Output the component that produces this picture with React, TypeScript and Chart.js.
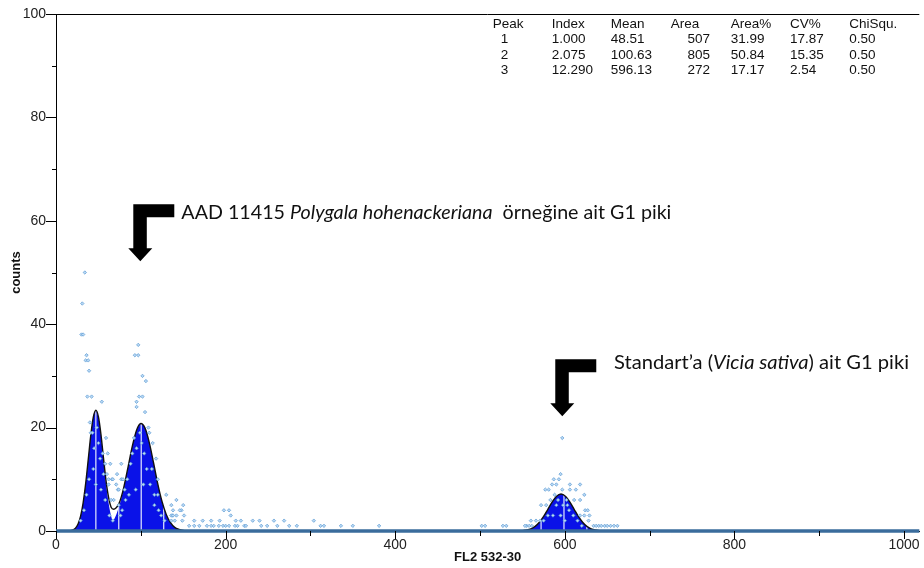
import React, { useEffect, useRef } from 'react';
import { Chart, registerables } from 'chart.js';

Chart.register(...registerables);

// ---------- axis ----------
const xMin = 0;
const xMax = 1018;
const yMin = 0;
const yMax = 100;
const xTickValues = [0, 200, 400, 600, 800, 1000];
const xMinorTickValues = [100, 300, 500, 700, 900];
const yTickValues = [0, 20, 40, 60, 80, 100];
const yMinorTickValues = [10, 30, 50, 70, 90];
const xTitle = 'FL2 532-30';
const yTitle = 'counts';

// ---------- fitted peaks ----------
const fit1X = [17, 20, 23, 26, 29, 32, 35, 38, 41, 44, 47, 50, 53, 56, 59, 62, 65, 68, 71, 74, 77, 80];
const fit1Y = [0.07, 0.21, 0.56, 1.35, 2.88, 5.46, 9.2, 13.8, 18.5, 22.0, 23.3, 22.0, 18.5, 13.8, 9.2, 5.46, 2.88, 1.35, 0.56, 0.21, 0.07, 0];

const fit2X = [50, 55, 60, 65, 70, 75, 80, 85, 90, 95, 100.5, 106, 111, 116, 121, 126, 131, 136, 141, 146, 151, 156];
const fit2Y = [0.08, 0.24, 0.6, 1.36, 2.78, 5.1, 8.4, 12.4, 16.4, 19.5, 20.8, 19.5, 16.4, 12.4, 8.4, 5.1, 2.78, 1.36, 0.6, 0.24, 0.08, 0];

const fit3X = [545, 550, 555, 560, 565, 570, 575, 580, 585, 590, 595.5, 601, 606, 611, 616, 621, 626, 631, 636, 641, 646];
const fit3Y = [0.02, 0.07, 0.19, 0.43, 0.9, 1.69, 2.81, 4.19, 5.6, 6.69, 7.15, 6.69, 5.6, 4.19, 2.81, 1.69, 0.9, 0.43, 0.19, 0.07, 0.02];

const fitSumX = [17, 20, 23, 26, 29, 32, 35, 38, 41, 44, 47, 50, 53, 56, 59, 62, 65, 68, 71, 74, 77, 80, 85, 90, 95, 100, 105, 110, 115, 120, 125, 130, 135, 140, 145, 150, 156];
const fitSumY = [0.07, 0.21, 0.56, 1.35, 2.88, 5.46, 9.2, 13.8, 18.5, 22.0, 23.35, 22.1, 18.7, 14.1, 9.7, 6.5, 4.6, 4.2, 4.5, 5.2, 6.6, 8.5, 12.4, 16.4, 19.5, 20.8, 19.9, 17.1, 13.2, 9.1, 5.7, 3.2, 1.6, 0.7, 0.3, 0.1, 0];

// zero-count channels along the whole axis
const baselineX = [0, 1018];
const baselineY = [0, 0];

// region boundary markers inside the peaks
const gateX = [47, 74, 100.5, 127, 572, 599, 626];
const gateTop = [23.3, 4.6, 20.8, 5.0, 2.1, 7.0, 0.9];

// ---------- raw histogram points ----------
const dotsX = [
  34, 31, 30, 32, 36, 35, 38, 39, 37, 42, 54, 41, 59, 55, 61, 58, 64, 77, 60, 72, 62, 66, 67, 77, 79, 62, 71, 73, 74, 81, 65, 68, 74,
  40, 43, 45, 48, 50, 52, 44, 39, 36, 47, 53, 56, 33, 58, 29, 63, 67,
  97, 93, 97, 102, 106, 98, 102, 95, 95, 105, 109, 110, 114, 118, 120, 116, 120, 130, 142, 136, 150, 148, 137, 142,
  84, 88, 90, 92, 95, 99, 101, 104, 107, 111, 113, 86, 82, 78, 94, 103, 116, 121, 124, 128, 76,
  138, 146, 198, 204, 136, 138, 151, 206,
  136, 140, 149, 163, 173, 183, 193, 212, 218, 232, 240, 257, 269, 304,
  157, 163, 169, 178, 183, 186, 192, 197, 200, 204, 211, 214, 222, 224, 242, 249, 261, 275, 284, 312, 316, 336, 350, 381, 502, 506, 527, 531, 555, 561,
  597, 595, 587, 593, 585, 590, 606, 618, 577, 581, 597, 606, 613, 623, 611, 618, 572, 578, 590, 603, 624, 627, 618, 623, 629, 560, 571, 628, 553, 558,
  634, 637, 640, 643, 647, 650, 654, 658, 662,
  583, 588, 592, 598, 602, 586, 595, 605, 610, 580, 575, 600, 615, 566, 620,
];
const dotsY = [
  50, 44, 38, 38, 34, 33, 33, 31, 26, 26, 25, 19, 18, 15, 15, 13, 13, 13, 11, 11, 10, 10, 10, 10, 10, 9, 9, 8, 8, 8, 6, 6, 5,
  21, 19, 16, 20, 17, 14, 12, 10, 7, 9, 8, 11, 4, 6, 2, 3, 2,
  36, 34, 34, 30, 29, 26, 26, 25, 24, 23, 20, 19, 17, 14, 10, 7, 7, 7, 6, 5, 5, 4, 3, 3,
  10, 13, 15, 18, 16, 19, 17, 15, 12, 9, 12, 7, 6, 4, 8, 9, 5, 4, 3, 2, 3,
  4, 4, 4, 4, 3, 3, 3, 3,
  2, 2, 2, 2, 2, 2, 2, 2, 2, 2, 2, 2, 2, 2,
  1, 1, 1, 1, 1, 1, 1, 1, 1, 1, 1, 1, 1, 1, 1, 1, 1, 1, 1, 1, 1, 1, 1, 1, 1, 1, 1, 1, 1, 1,
  18, 11, 10, 10, 9, 9, 9, 9, 8, 8, 8, 8, 8, 7, 6, 6, 5, 5, 5, 5, 4, 4, 3, 3, 3, 2, 2, 2, 1, 1,
  1, 1, 1, 1, 1, 1, 1, 1, 1,
  6, 7, 6, 5, 6, 3, 3, 4, 3, 3, 2, 2, 2, 2, 1,
];

// ---------- annotations ----------
const arrowTipX = [99.4, 597];
const arrowTipY = [52.2, 22.2];
const noteX = [147.8, 658];
const noteY = [60.3, 31.3];
const note1Parts: [string, boolean][] = [
  ['AAD 11415 ', false],
  ['Polygala hohenackeriana', true],
  ['  örneğine ait G1 piki', false],
];
const note2Parts: [string, boolean][] = [
  ['Standart’a (', false],
  ['Vicia sativa', true],
  [') ait G1 piki', false],
];

// ---------- statistics table ----------
const tableHeader = ['Peak', 'Index', 'Mean', 'Area', 'Area%', 'CV%', 'ChiSqu.'];
const peakIds = ['1', '2', '3'];
const peakIndex = ['1.000', '2.075', '12.290'];
const peakMean = ['48.51', '100.63', '596.13'];
const peakArea = ['507', '805', '272'];
const peakAreaPct = ['31.99', '50.84', '17.17'];
const peakCV = ['17.87', '15.35', '2.54'];
const peakChi = ['0.50', '0.50', '0.50'];

const pts = (xs: number[], ys: number[]) => xs.map((x, i) => ({ x, y: ys[i] }));

const FILL_BLUE = '#0a12e8';
const TEXT_FONT = '"Liberation Sans", Arial, sans-serif';
const NOTE_FONT = 'Lato, "Open Sans", sans-serif';

function drawArrow(ctx: CanvasRenderingContext2D, tx: number, ty: number) {
  ctx.beginPath();
  ctx.moveTo(tx, ty);
  ctx.lineTo(tx - 12, ty - 13);
  ctx.lineTo(tx - 7, ty - 13);
  ctx.lineTo(tx - 7, ty - 57);
  ctx.lineTo(tx + 34, ty - 57);
  ctx.lineTo(tx + 34, ty - 44);
  ctx.lineTo(tx + 6.5, ty - 44);
  ctx.lineTo(tx + 6.5, ty - 13);
  ctx.lineTo(tx + 12, ty - 13);
  ctx.closePath();
  ctx.fill();
}

function drawRich(
  ctx: CanvasRenderingContext2D,
  parts: [string, boolean][],
  x: number,
  y: number,
  targetW: number,
  size: number
) {
  const fN = `${size}px ${NOTE_FONT}`;
  const fI = `italic ${size}px ${NOTE_FONT}`;
  let total = 0;
  const widths: number[] = [];
  for (const [t, it] of parts) {
    ctx.font = it ? fI : fN;
    const w = ctx.measureText(t).width;
    widths.push(w);
    total += w;
  }
  const s = targetW / total;
  ctx.save();
  ctx.translate(x, y);
  ctx.scale(s, 1);
  ctx.textBaseline = 'alphabetic';
  ctx.textAlign = 'left';
  let cx = 0;
  parts.forEach(([t, it], i) => {
    ctx.font = it ? fI : fN;
    ctx.fillText(t, cx, 0);
    cx += widths[i];
  });
  ctx.restore();
}

const decorPlugin = {
  id: 'decor',
  afterDraw(chart: any) {
    const { ctx, chartArea, scales } = chart;
    const xs = scales.x;
    const ys = scales.y;
    ctx.save();
    // top frame line
    ctx.strokeStyle = '#000';
    ctx.lineWidth = 1;
    ctx.beginPath();
    ctx.moveTo(chartArea.left, chartArea.top + 0.5);
    ctx.lineTo(chartArea.right, chartArea.top + 0.5);
    ctx.stroke();

    // tick marks
    ctx.beginPath();
    for (const v of yTickValues) {
      const py = Math.round(ys.getPixelForValue(v)) + 0.5;
      ctx.moveTo(chartArea.left - 10, py);
      ctx.lineTo(chartArea.left, py);
    }
    for (const v of yMinorTickValues) {
      const py = Math.round(ys.getPixelForValue(v)) + 0.5;
      ctx.moveTo(chartArea.left - 4, py);
      ctx.lineTo(chartArea.left, py);
    }
    for (const v of xTickValues) {
      const px = Math.round(xs.getPixelForValue(v)) + 0.5;
      ctx.moveTo(px, chartArea.bottom);
      ctx.lineTo(px, chartArea.bottom + 8);
    }
    for (const v of xMinorTickValues) {
      const px = Math.round(xs.getPixelForValue(v)) + 0.5;
      ctx.moveTo(px, chartArea.bottom);
      ctx.lineTo(px, chartArea.bottom + 5);
    }
    ctx.stroke();

    // arrows
    ctx.fillStyle = '#000';
    arrowTipX.forEach((v, i) => {
      drawArrow(ctx, xs.getPixelForValue(v), ys.getPixelForValue(arrowTipY[i]));
    });

    // notes
    ctx.fillStyle = '#111';
    drawRich(ctx, note1Parts, xs.getPixelForValue(noteX[0]), ys.getPixelForValue(noteY[0]), 490, 20);
    drawRich(ctx, note2Parts, xs.getPixelForValue(noteX[1]), ys.getPixelForValue(noteY[1]), 295, 20);

    // statistics table
    ctx.font = `13.5px ${TEXT_FONT}`;
    ctx.fillStyle = '#111';
    ctx.textBaseline = 'middle';
    const colX = [492.7, 551.7, 610.7, 670.7, 730.7, 790, 849.3];
    const rowY = [24, 39.3, 55, 70];
    ctx.textAlign = 'left';
    tableHeader.forEach((h, i) => ctx.fillText(h, colX[i], rowY[0]));
    for (let r = 0; r < peakIds.length; r++) {
      const y = rowY[r + 1];
      ctx.textAlign = 'left';
      ctx.fillText(peakIds[r], colX[0] + 8, y);
      ctx.fillText(peakIndex[r], colX[1], y);
      ctx.fillText(peakMean[r], colX[2], y);
      ctx.textAlign = 'right';
      ctx.fillText(peakArea[r], 710, y);
      ctx.textAlign = 'left';
      ctx.fillText(peakAreaPct[r], colX[4], y);
      ctx.fillText(peakCV[r], colX[5], y);
      ctx.fillText(peakChi[r], colX[6], y);
    }
    ctx.restore();
  },
};

export default function App() {
  const ref = useRef<HTMLCanvasElement>(null);
  useEffect(() => {
    document.body.style.margin = '0';
    const canvas = ref.current!;
    const whiteData: any[] = [];
    gateX.forEach((x, i) => {
      whiteData.push({ x, y: 0 }, { x, y: gateTop[i] }, { x, y: null });
    });
    const curveCommon = {
      showLine: true,
      pointRadius: 0,
      cubicInterpolationMode: 'monotone' as const,
    };
    const chart = new Chart(canvas, {
      type: 'scatter',
      data: {
        datasets: [
          {
            label: 'histogram',
            data: pts(dotsX, dotsY),
            showLine: false,
            pointStyle: 'rectRot',
            pointRadius: 1.7,
            pointBackgroundColor: '#b8d8f4',
            pointBorderColor: '#5a9ad2',
            pointBorderWidth: 0.7,
            order: 0,
            clip: false,
          } as any,
          {
            label: 'zero',
            data: pts(baselineX, baselineY),
            showLine: true,
            borderColor: '#3a6c9c',
            borderWidth: 3.5,
            pointRadius: 0,
            order: 1,
            clip: false,
          } as any,
          {
            label: 'sum',
            data: pts(fitSumX, fitSumY),
            ...curveCommon,
            borderColor: '#111',
            borderWidth: 1.4,
            fill: false,
            order: 2,
          } as any,
          {
            label: 'fit3 line',
            data: pts(fit3X, fit3Y),
            ...curveCommon,
            borderColor: '#111',
            borderWidth: 1.4,
            fill: false,
            order: 2,
          } as any,
          {
            label: 'gates',
            data: whiteData,
            showLine: true,
            spanGaps: false,
            pointRadius: 0,
            borderColor: 'rgba(235,240,255,0.9)',
            borderWidth: 1.3,
            order: 3,
          } as any,
          {
            label: 'fit1',
            data: pts(fit1X, fit1Y),
            ...curveCommon,
            borderWidth: 0,
            borderColor: 'rgba(0,0,0,0)',
            backgroundColor: FILL_BLUE,
            fill: 'origin',
            order: 4,
          } as any,
          {
            label: 'fit2',
            data: pts(fit2X, fit2Y),
            ...curveCommon,
            borderWidth: 0,
            borderColor: 'rgba(0,0,0,0)',
            backgroundColor: FILL_BLUE,
            fill: 'origin',
            order: 4,
          } as any,
          {
            label: 'fit3',
            data: pts(fit3X, fit3Y),
            ...curveCommon,
            borderWidth: 0,
            borderColor: 'rgba(0,0,0,0)',
            backgroundColor: FILL_BLUE,
            fill: 'origin',
            order: 4,
          } as any,
        ],
      },
      options: {
        responsive: false,
        animation: false,
        devicePixelRatio: 1,
        layout: { padding: { top: 14, left: 0, right: 0, bottom: 0 } },
        plugins: {
          legend: { display: false },
          tooltip: { enabled: false },
        },
        scales: {
          x: {
            type: 'linear',
            min: xMin,
            max: xMax,
            position: 'bottom',
            grid: { display: false, drawTicks: false },
            border: { display: true, color: '#000', width: 1 },
            afterBuildTicks: (s: any) => {
              s.ticks = xTickValues.map((v) => ({ value: v }));
            },
            ticks: {
              autoSkip: false,
              maxRotation: 0,
              padding: 6,
              color: '#222',
              font: { family: TEXT_FONT, size: 14 },
              callback: (v: any) => String(v),
            },
            title: {
              display: true,
              text: xTitle,
              color: '#111',
              font: { family: TEXT_FONT, size: 13, weight: 'bold' },
              padding: { top: 0, bottom: 2.5 },
            },
            afterFit: (s: any) => {
              s.height = 37;
              s.paddingLeft = 0;
              s.paddingRight = 0;
            },
          } as any,
          y: {
            type: 'linear',
            min: yMin,
            max: yMax,
            grid: { display: false, drawTicks: false },
            border: { display: true, color: '#000', width: 1 },
            afterBuildTicks: (s: any) => {
              s.ticks = yTickValues.map((v) => ({ value: v }));
            },
            ticks: {
              autoSkip: false,
              padding: 10,
              color: '#222',
              font: { family: TEXT_FONT, size: 14 },
              callback: (v: any) => String(v),
            },
            title: {
              display: true,
              text: yTitle,
              color: '#111',
              font: { family: TEXT_FONT, size: 13, weight: 'bold' },
              padding: { top: 9, bottom: 0 },
            },
            afterFit: (s: any) => {
              s.width = 56;
              s.paddingTop = 0;
              s.paddingBottom = 0;
            },
          } as any,
        },
      },
      plugins: [decorPlugin],
    });
    return () => chart.destroy();
  }, []);
  return (
    <div style={{ position: 'relative', width: 924, height: 568, background: '#fff' }}>
      <canvas ref={ref} width={924} height={568} style={{ display: 'block', width: 924, height: 568 }} />
    </div>
  );
}
